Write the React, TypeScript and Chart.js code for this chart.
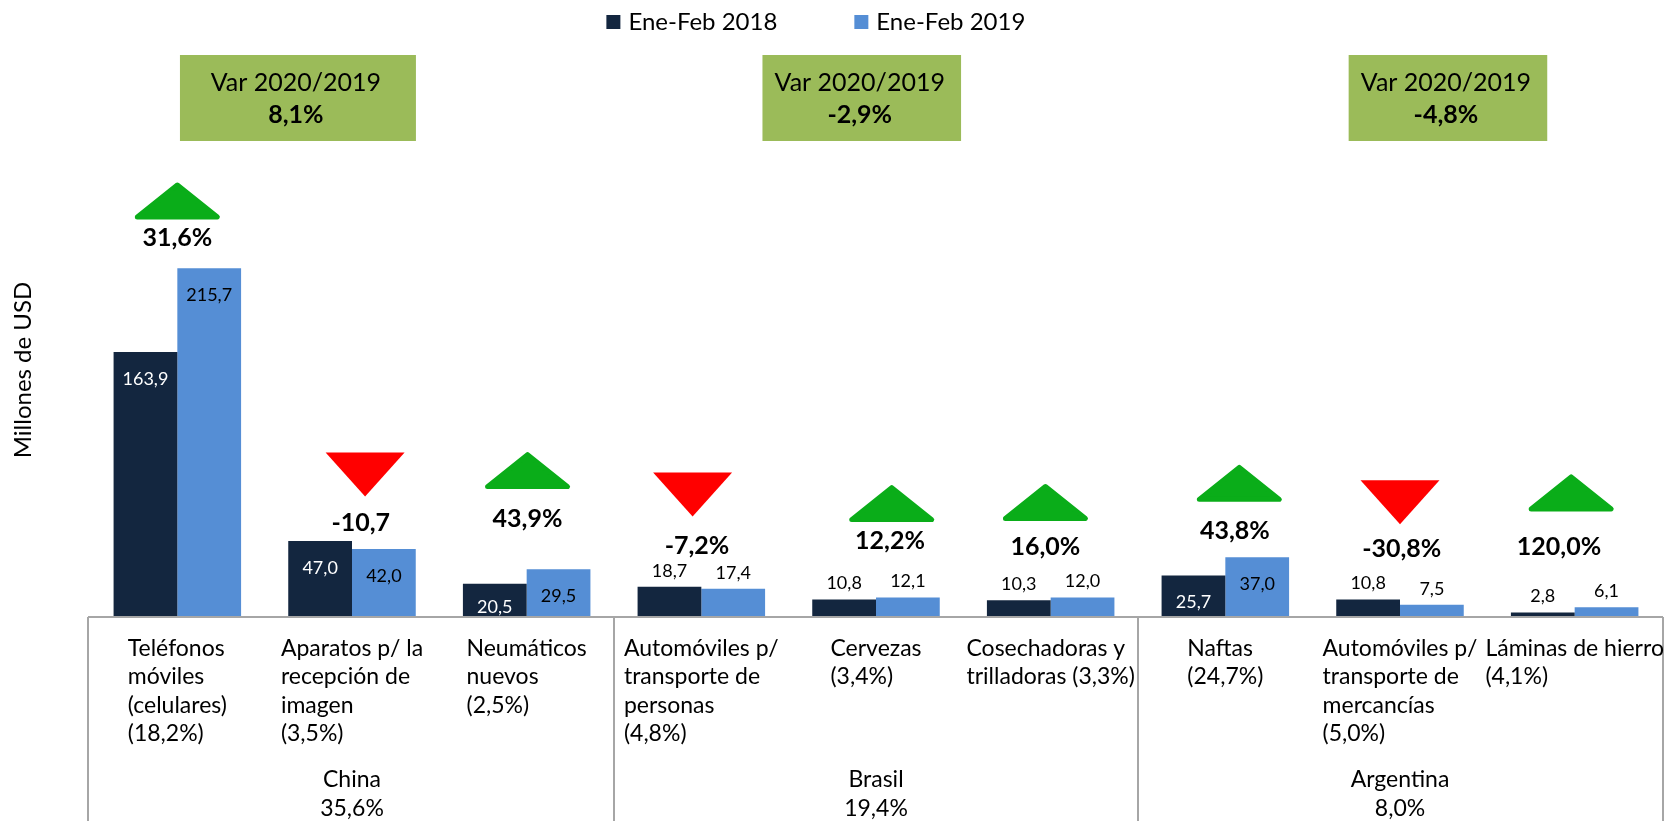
import React, { useEffect, useRef } from "react";
import { Chart, registerables } from "chart.js";

Chart.register(...registerables);

// ---------- data ----------
const categoryLines: string[][] = [
  ["Teléfonos", "móviles", "(celulares)", "(18,2%)"],
  ["Aparatos p/ la", "recepción de", "imagen", "(3,5%)"],
  ["Neumáticos", "nuevos", "(2,5%)"],
  ["Automóviles p/", "transporte de", "personas", "(4,8%)"],
  ["Cervezas", "(3,4%)"],
  ["Cosechadoras y", "trilladoras (3,3%)"],
  ["Naftas", "(24,7%)"],
  ["Automóviles p/", "transporte de", "mercancías", "(5,0%)"],
  ["Láminas de hierro", "(4,1%)"],
];
const seriesNames = ["Ene-Feb 2018", "Ene-Feb 2019"];
const values2018 = [163.9, 47.0, 20.5, 18.7, 10.8, 10.3, 25.7, 10.8, 2.8];
const values2019 = [215.7, 42.0, 29.5, 17.4, 12.1, 12.0, 37.0, 7.5, 6.1];
const variationText = ["31,6%", "-10,7", "43,9%", "-7,2%", "12,2%", "16,0%", "43,8%", "-30,8%", "120,0%"];
const variationDir = ["up", "down", "up", "down", "up", "up", "up", "down", "up"];

const groupNames = ["China", "Brasil", "Argentina"];
const groupShares = ["35,6%", "19,4%", "8,0%"];
const groupSizes = [3, 3, 3];
const groupVarTitle = "Var 2020/2019";
const groupVariation = ["8,1%", "-2,9%", "-4,8%"];

// ---------- annotation placement (in axis units) ----------
const pctLabelLevel = [234.6, 58.1, 60.7, 44.2, 46.9, 43.6, 53.5, 42.3, 43.6];
const arrowEdgeLevel = [245.8, 74.5, 79.1, 62.1, 58.7, 59.4, 71.2, 57.4, 65.3];
const arrowShift = [0, 0.075, 0.005, -0.05, 0.09, -0.03, 0.08, 0, -0.02];
const pctShift = [0, 0.05, 0.005, -0.025, 0.08, -0.03, 0.055, 0.01, -0.09];
const labelMode2018 = ["end", "end", "base", "out", "out", "out", "end", "out", "out"];
const labelMode2019 = ["end", "end", "end", "out", "out", "out", "end", "out", "out"];
const boxSpans = [
  [0.015, 1.366],
  [3.35, 4.487],
  [6.706, 7.843],
];

const DARK = "#13263F";
const LIGHT = "#558ED5";
const BOX = "#9BBB59";
const GREEN = "#0AAD19";
const RED = "#FF0000";
const LINE = "#A6A6A6";
const FONT = "Lato, 'Open Sans', sans-serif";

const fmt = (v: number) => v.toFixed(1).replace(".", ",");

const overlayPlugin = {
  id: "overlay",
  afterDraw(chart: any) {
    const ctx: CanvasRenderingContext2D = chart.ctx;
    const xs = chart.scales.x;
    const ys = chart.scales.y;
    const x0 = xs.getPixelForValue(0);
    const catW = xs.getPixelForValue(1) - x0;
    const px = (u: number) => x0 + u * catW;
    const baseY = ys.getPixelForValue(0);
    const H = chart.height;

    ctx.save();

    // value labels
    const metas = [chart.getDatasetMeta(0), chart.getDatasetMeta(1)];
    const modes = [labelMode2018, labelMode2019];
    const vals = [values2018, values2019];
    ctx.font = `18px ${FONT}`;
    ctx.textAlign = "center";
    ctx.textBaseline = "middle";
    metas.forEach((meta: any, d: number) => {
      meta.data.forEach((bar: any, i: number) => {
        const mode = modes[d][i];
        let yy = bar.y - 16;
        let color = "#000";
        if (mode === "end") {
          yy = bar.y + 27;
          color = d === 0 ? "#FFFFFF" : "#000";
        } else if (mode === "base") {
          yy = baseY - 10;
          color = d === 0 ? "#FFFFFF" : "#000";
        }
        ctx.fillStyle = color;
        ctx.fillText(fmt(vals[d][i]), bar.x, yy);
      });
    });

    // axis lines
    ctx.strokeStyle = LINE;
    ctx.lineWidth = 2;
    ctx.beginPath();
    ctx.moveTo(px(-0.5) - 2, baseY);
    ctx.lineTo(px(8.5) + 1, baseY);
    ctx.stroke();
    let start = 0;
    const bounds = [-0.5];
    groupSizes.forEach((s) => {
      start += s;
      bounds.push(start - 0.5);
    });
    bounds.forEach((b, k) => {
      const bx = px(b) + (k === 0 ? -2 : k === bounds.length - 1 ? 1 : 0);
      ctx.beginPath();
      ctx.moveTo(bx, baseY);
      ctx.lineTo(bx, H);
      ctx.stroke();
    });

    // category labels
    ctx.fillStyle = "#000";
    ctx.font = `23px ${FONT}`;
    ctx.textAlign = "left";
    ctx.textBaseline = "middle";
    categoryLines.forEach((lines, i) => {
      const maxW = Math.max(...lines.map((l) => ctx.measureText(l).width));
      const sx = px(i) - maxW / 2;
      lines.forEach((l, j) => ctx.fillText(l, sx, baseY + 31.5 + j * 28.5));
    });

    // group labels
    ctx.textAlign = "center";
    let g0 = 0;
    groupNames.forEach((name, k) => {
      const mid = g0 + (groupSizes[k] - 1) / 2;
      ctx.fillText(name, px(mid), baseY + 163);
      ctx.fillText(groupShares[k], px(mid), baseY + 191.5);
      g0 += groupSizes[k];
    });

    // arrows and variation labels
    variationText.forEach((t, i) => {
      const up = variationDir[i] === "up";
      const cx = px(i + arrowShift[i]);
      const edge = ys.getPixelForValue(arrowEdgeLevel[i]);
      ctx.fillStyle = up ? GREEN : RED;
      ctx.strokeStyle = up ? GREEN : RED;
      ctx.beginPath();
      if (up) {
        const w = 85, h = 37, r = 2.5;
        ctx.moveTo(cx, edge - h + r);
        ctx.lineTo(cx + w / 2 - r, edge - r);
        ctx.lineTo(cx - w / 2 + r, edge - r);
        ctx.closePath();
        ctx.lineJoin = "round";
        ctx.lineWidth = 2 * r;
        ctx.fill();
        ctx.stroke();
      } else {
        const w = 79, h = 44;
        ctx.moveTo(cx - w / 2, edge - h);
        ctx.lineTo(cx + w / 2, edge - h);
        ctx.lineTo(cx, edge);
        ctx.closePath();
        ctx.fill();
      }
      ctx.fillStyle = "#000";
      ctx.font = `bold 25px ${FONT}`;
      ctx.textAlign = "center";
      ctx.textBaseline = "middle";
      ctx.fillText(t, px(i + pctShift[i]), ys.getPixelForValue(pctLabelLevel[i]));
    });

    // group variation boxes
    const boxTop = chart.chartArea.top - 85;
    boxSpans.forEach((s, k) => {
      const bx1 = px(s[0]);
      const bx2 = px(s[1]);
      ctx.fillStyle = BOX;
      ctx.fillRect(bx1, boxTop, bx2 - bx1, 86);
      ctx.fillStyle = "#000";
      ctx.textAlign = "center";
      ctx.font = `25px ${FONT}`;
      const cx = (bx1 + bx2) / 2 - 2;
      ctx.fillText(groupVarTitle, cx, boxTop + 28);
      ctx.font = `bold 25px ${FONT}`;
      ctx.fillText(groupVariation[k], cx, boxTop + 60);
    });

    // legend
    ctx.font = `24px ${FONT}`;
    ctx.textAlign = "left";
    const colors = [DARK, LIGHT];
    const tw = seriesNames.map((n) => ctx.measureText(n).width);
    const itemGap = 77;
    const total = 14 + 8 + tw[0] + itemGap + 14 + 8 + tw[1];
    let lx = chart.width * 0.49 - total / 2;
    seriesNames.forEach((n, k) => {
      ctx.fillStyle = colors[k];
      ctx.fillRect(lx, 15, 14, 14);
      ctx.fillStyle = "#000";
      ctx.fillText(n, lx + 22, 22);
      lx += 22 + tw[k] + itemGap;
    });

    // y axis title
    ctx.save();
    ctx.translate(23, 370);
    ctx.rotate(-Math.PI / 2);
    ctx.textAlign = "center";
    ctx.font = `24px ${FONT}`;
    ctx.fillText("Millones de USD", 0, 0);
    ctx.restore();

    ctx.restore();
  },
};

export default function App() {
  const ref = useRef<HTMLCanvasElement | null>(null);
  useEffect(() => {
    document.body.style.margin = "0";
    document.body.style.overflow = "hidden";
    if (!ref.current) return;
    const chart = new Chart(ref.current, {
      type: "bar",
      data: {
        labels: categoryLines.map((l) => l.join(" ")),
        datasets: [
          {
            label: seriesNames[0],
            data: values2018,
            backgroundColor: DARK,
            categoryPercentage: 0.73,
            barPercentage: 1.0,
          },
          {
            label: seriesNames[1],
            data: values2019,
            backgroundColor: LIGHT,
            categoryPercentage: 0.73,
            barPercentage: 1.0,
          },
        ],
      },
      options: {
        responsive: false,
        animation: false,
        layout: { padding: { left: 90, right: 3, top: 140, bottom: 204 } },
        scales: {
          x: { display: false, offset: true, grid: { display: false } },
          y: { display: false, min: 0, max: 295, grid: { display: false } },
        },
        plugins: {
          legend: { display: false },
          tooltip: { enabled: false },
        },
      },
      plugins: [overlayPlugin],
    });
    return () => chart.destroy();
  }, []);
  return (
    <div style={{ width: 1665, height: 821, background: "#fff" }}>
      <canvas ref={ref} width={1665} height={821} style={{ display: "block" }} />
    </div>
  );
}
